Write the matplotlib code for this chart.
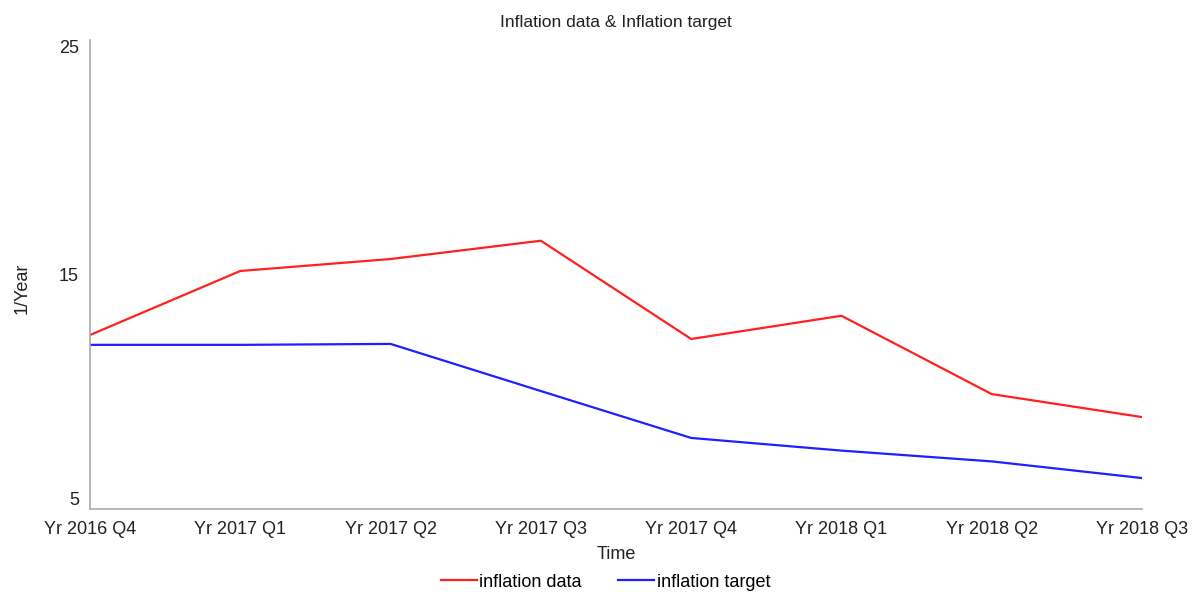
import matplotlib
matplotlib.use("Agg")
import matplotlib.pyplot as plt

plt.rcParams['font.family'] = ['Liberation Sans', 'DejaVu Sans']

# quarters on the x axis
periods = ['Yr 2016 Q4', 'Yr 2017 Q1', 'Yr 2017 Q2', 'Yr 2017 Q3',
           'Yr 2017 Q4', 'Yr 2018 Q1', 'Yr 2018 Q2', 'Yr 2018 Q3']
inflation_data = [12.42, 15.15, 15.66, 16.44, 12.25, 13.24, 9.90, 8.92]
inflation_target = [12.0, 12.0, 12.04, 10.03, 8.03, 7.49, 7.03, 6.32]
yticks = [5, 15, 25]

fig = plt.figure(figsize=(11.93, 5.92), dpi=100)
ax = fig.add_axes([90/1193, 83/592, 1052/1193, 469/592])

x = range(len(periods))
ax.plot(x, inflation_data, color='#ff2020', lw=1.6, label='inflation data')
ax.plot(x, inflation_target, color='#2020ff', lw=1.6, label='inflation target')

ax.set_xlim(0, len(periods) - 1)
ax.set_ylim(5, 25)
ax.set_xticks(list(x))
ax.set_xticklabels(periods, fontsize=13, color='#222222')
ax.set_yticks(yticks)
ax.set_yticklabels([str(v) for v in yticks], fontsize=13, color='#222222')
ax.tick_params(length=0, pad=8)
ax.tick_params(axis='x', pad=9)
# keep the end labels inside the axis span
ylabs = ax.get_yticklabels()
ylabs[0].set_va('bottom')
ylabs[-1].set_va('top')

for s in ['top', 'right']:
    ax.spines[s].set_visible(False)
for s in ['left', 'bottom']:
    ax.spines[s].set_color('#aaaaaa')
    ax.spines[s].set_linewidth(1.2)

ax.set_xlabel('Time', fontsize=13, color='#222222')
ax.xaxis.set_label_coords(0.5, -0.078)
ax.set_ylabel('1/Year', fontsize=13, color='#222222')
ax.yaxis.set_label_coords(-0.056, 0.47)
ax.set_title('Inflation data & Inflation target', fontsize=12.5, color='#222222', pad=9)

ax.legend(loc='upper center', bbox_to_anchor=(0.49, -0.115), ncol=2, frameon=False,
          fontsize=13, handlelength=2.0, handletextpad=0.15, columnspacing=2.0,
          borderpad=0.1)

fig.savefig('out.png', dpi=100)
